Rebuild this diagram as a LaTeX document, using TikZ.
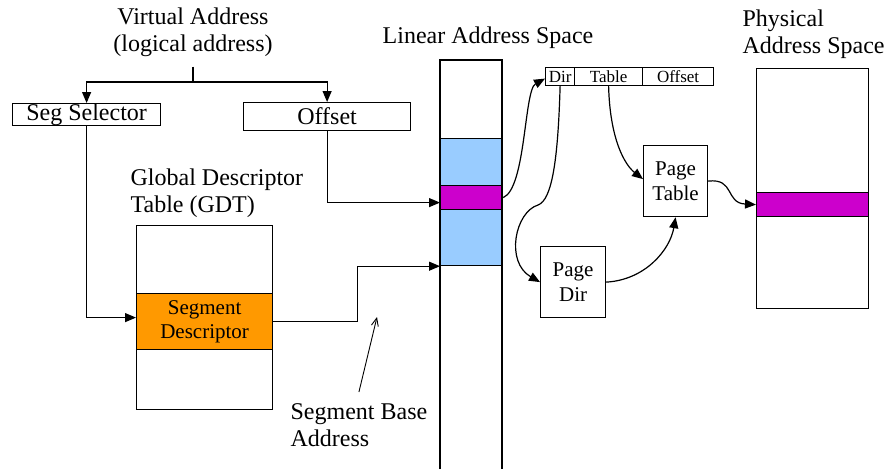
\documentclass[tikz,border=0pt]{standalone}
\usepackage{fontspec}
\setmainfont{Liberation Serif}
\usetikzlibrary{arrows.meta}
\definecolor{linblue}{HTML}{99CCFF}
\definecolor{mag}{HTML}{CC00CC}
\definecolor{orng}{HTML}{FF9900}
\begin{document}
\begin{tikzpicture}[x=1pt,y=-1pt, line width=1.2pt,
  arr/.style={-{Triangle[length=11pt,width=9pt]}},
  thinarr/.style={line width=0.9pt,-{Straight Barb[length=8pt,width=7pt]}},
  box/.style={draw, inner sep=0pt, anchor=north west},
  big/.style={font=\fontsize{24}{27.5}\selectfont},
  mid/.style={font=\fontsize{21}{24.5}\selectfont},
  small/.style={font=\fontsize{17}{20}\selectfont},
  lbl/.style={inner sep=0pt, big}]
\useasboundingbox (0,0) rectangle (885,469);

% labels
\node[lbl, align=center, anchor=north] (va) at (193,7) {Virtual Address\\(logical address)};
\node[lbl, anchor=north] (las) at (488,26) {Linear Address Space};
\node[lbl, align=left, anchor=north west] (pas) at (742,9) {Physical\\Address Space};
\node[lbl, align=left, anchor=north west] (gdtl) at (130,168) {Global Descriptor\\Table (GDT)};
\node[lbl, align=left, anchor=north west] (sba) at (290,403) {Segment Base\\Address};

% virtual address parts
\node[box, big, minimum width=148pt, minimum height=22pt] (seg) at (12,103) {Seg Selector};
\node[box, big, minimum width=167pt, minimum height=28pt] (offs) at (243,102) {Offset};

% GDT
\node[box, minimum width=136pt, minimum height=184pt] (gdt) at (136,225) {};
\node[box, mid, fill=orng, align=center, minimum width=136pt, minimum height=56pt] (desc) at (136,293) {Segment\\Descriptor};

% linear address space
\node[box, fill=linblue, minimum width=62pt, minimum height=127pt] (blue) at (440,138) {};
\node[box, fill=mag, minimum width=62pt, minimum height=24pt] (mag1) at (440,185) {};
\draw (440,469) -- (440,60) -- (502,60) -- (502,469);

% linear address fields
\node[box, small, minimum width=29pt, minimum height=18pt] (dir) at (545,67) {Dir};
\node[box, small, minimum width=68pt, minimum height=18pt] (tbl) at (574,67) {Table};
\node[box, small, minimum width=71pt, minimum height=18pt] (off) at (642,67) {Offset};

% paging structures
\node[box, mid, align=center, minimum width=65pt, minimum height=71pt] (pdir) at (540,246) {Page\\Dir};
\node[box, mid, align=center, minimum width=64pt, minimum height=71pt] (ptab) at (643,145) {Page\\Table};

% physical address space
\node[box, minimum width=112pt, minimum height=240pt] (phys) at (756,68) {};
\node[box, fill=mag, minimum width=112pt, minimum height=24pt] (pmag) at (756,192) {};

% connectors
\coordinate (split) at (193,82);
\draw ([yshift=-9pt]va.south) -- (split);
\draw[arr] (split) -| (seg.north);
\draw[arr] (split) -| (offs.north);
\draw[arr] (seg.south) |- ([yshift=4pt]desc.west);
\draw[arr] (offs.south) |- ([yshift=-5pt]mag1.west);
\draw[arr] (desc.east) -- ++(84,0) |- (blue.south west);

\coordinate (sbatip) at (377,317);
\draw[thinarr] ([yshift=11pt]sba.north) -- (sbatip);

\draw[arr] (mag1.east) .. controls (526,188) and (524,90) .. ([yshift=-2pt]dir.west);
\draw[arr] (dir.south) .. controls (558,160) and (552,200) .. (538,205)
   .. controls (515,212) and (505,262) .. (pdir.west);
\draw[arr] (tbl.south) .. controls (610,140) and (625,165) .. ([yshift=2pt]ptab.west);
\draw[arr] (pdir.east) .. controls (645,280) and (670,250) .. (ptab.south);
\draw[arr] (ptab.east) .. controls (735,178) and (725,203) .. (pmag.west);
\end{tikzpicture}
\end{document}
